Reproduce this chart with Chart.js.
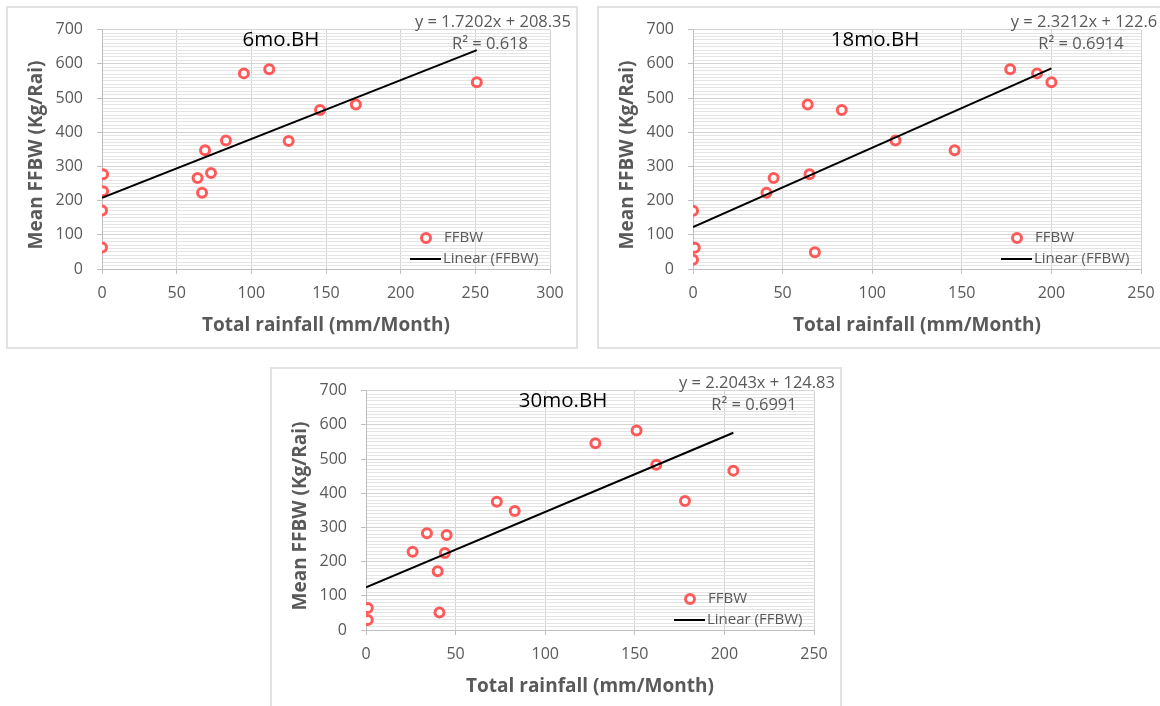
<!DOCTYPE html>
<html>
<head>
<meta charset="utf-8">
<script src="https://cdn.jsdelivr.net/npm/chart.js@4.4.1/dist/chart.umd.min.js"></script>
<style>
    body { margin: 0; width: 1160px; height: 706px; position: relative; overflow: hidden; background: #fff; }
    .box { position: absolute; width: 572px; height: 343px; border: 2px solid #e2e2e2; box-sizing: border-box; }
    canvas { position: absolute; }
</style>
</head>
<body>
<div class="box" style="left:6px; top:6px;"></div>
<div class="box" style="left:597px; top:6px;"></div>
<div class="box" style="left:270px; top:367px;"></div>
<canvas id="chart6" width="572" height="343" style="left:6px; top:6px;"></canvas>
<canvas id="chart18" width="572" height="343" style="left:597px; top:6px;"></canvas>
<canvas id="chart30" width="572" height="343" style="left:270px; top:367px;"></canvas>

<script>
// Data: rainfall (mm/Month) vs mean FFBW (Kg/Rai)
const rain6 = [0.7, 0.7, 0, 0, 64, 67, 69, 73, 83, 95, 112, 125, 146, 170, 251];
const ffbw6 = [277, 227, 171, 63, 266, 223, 347, 281, 376, 572, 584, 374, 465, 481, 546];

const rain18 = [0, 1, 0, 41, 45, 64, 65, 68, 83, 113, 146, 177, 192, 200];
const ffbw18 = [170, 62, 27, 223, 266, 481, 277, 49, 465, 376, 347, 584, 572, 546];

const rain30 = [1, 1, 26, 34, 40, 41, 44, 45, 73, 83, 128, 151, 162, 178, 205];
const ffbw30 = [64, 29, 229, 283, 172, 51, 225, 278, 375, 348, 546, 583, 483, 377, 466];

// Trendline coefficients shown on the charts
const titles = ['6mo.BH', '18mo.BH', '30mo.BH'];
const slopes = [1.7202, 2.3212, 2.2043];
const intercepts = [208.35, 122.6, 124.83];
const rSquared = [0.618, 0.6914, 0.6991];
const xMax = [300, 250, 250];

const FONT = '"Open Sans", Lato, sans-serif';
const GREY = '#595959';
const RED = '#fe5a5a';

// Title, equation, y title and legend drawn inside the plot like Excel does
const annotations = {
    id: 'annotations',
    afterDraw: function(chart, args, opts) {
        const ctx = chart.ctx;
        ctx.save();
        ctx.textBaseline = 'middle';
        ctx.textAlign = 'center';

        // y axis title, a bit below the plot centre as in Excel
        ctx.save();
        ctx.translate(31, 149);
        ctx.rotate(-Math.PI / 2);
        ctx.fillStyle = GREY;
        ctx.font = 'bold 19px ' + FONT;
        ctx.fillText(opts.yTitle, 0, 0);
        ctx.restore();

        ctx.fillStyle = '#000';
        ctx.font = '20.5px ' + FONT;
        ctx.fillText(opts.title, opts.titleX, 34);

        ctx.fillStyle = GREY;
        ctx.font = '16.5px ' + FONT;
        ctx.fillText(opts.equation, 487, 16);
        ctx.fillText(opts.r2, 484, 38);

        // legend
        const ds = chart.data.datasets;
        ctx.beginPath();
        ctx.arc(420, 232, 4.5, 0, Math.PI * 2);
        ctx.fillStyle = '#fff';
        ctx.fill();
        ctx.lineWidth = 3;
        ctx.strokeStyle = RED;
        ctx.stroke();

        ctx.beginPath();
        ctx.moveTo(404, 253);
        ctx.lineTo(435, 253);
        ctx.lineWidth = 2;
        ctx.strokeStyle = '#000';
        ctx.stroke();

        ctx.textAlign = 'left';
        ctx.fillStyle = GREY;
        ctx.font = '15px ' + FONT;
        ctx.fillText(ds[0].label, 438, 232);
        ctx.fillText(ds[1].label, 437, 253);
        ctx.restore();
    }
};

function makeChart(id, idx, rain, ffbw, titleX) {
    const points = rain.map(function(r, i) { return { x: r, y: ffbw[i] }; });
    const lastX = Math.max.apply(null, rain);
    const trend = [
        { x: 0, y: intercepts[idx] },
        { x: lastX, y: slopes[idx] * lastX + intercepts[idx] }
    ];

    return new Chart(document.getElementById(id), {
        type: 'scatter',
        data: {
            datasets: [{
                label: 'FFBW',
                data: points,
                order: 1,
                pointRadius: 4.5,
                pointHoverRadius: 4.5,
                pointBorderWidth: 3,
                borderColor: RED,
                backgroundColor: '#fff'
            }, {
                label: 'Linear (FFBW)',
                data: trend,
                order: 0,
                showLine: true,
                borderColor: '#000',
                borderWidth: 2,
                pointRadius: 0
            }]
        },
        options: {
            responsive: false,
            animation: false,
            layout: { padding: { top: 17, right: 28, bottom: 0, left: 0 } },
            plugins: {
                legend: { display: false },
                tooltip: { enabled: false },
                annotations: {
                    title: titles[idx],
                    titleX: titleX,
                    yTitle: 'Mean FFBW (Kg/Rai)',
                    equation: 'y = ' + slopes[idx] + 'x + ' + intercepts[idx],
                    r2: 'R² = ' + rSquared[idx]
                }
            },
            scales: {
                x: {
                    type: 'linear',
                    min: 0,
                    max: xMax[idx],
                    afterFit: function(scale) { scale.height = 80; },
                    ticks: { stepSize: 50, padding: 10, color: GREY, font: { family: FONT, size: 16 } },
                    grid: { color: '#d4d4d4', tickLength: 5, tickColor: '#bfbfbf' },
                    border: { color: '#bfbfbf' },
                    title: {
                        display: true,
                        text: 'Total rainfall (mm/Month)',
                        color: GREY,
                        font: { family: FONT, size: 19, weight: 'bold' },
                        padding: { top: 0, bottom: 12 }
                    }
                },
                y: {
                    min: 0,
                    max: 700,
                    afterFit: function(scale) { scale.width = 96; },
                    ticks: {
                        stepSize: 10,
                        autoSkip: false,
                        padding: 14,
                        color: GREY,
                        font: { family: FONT, size: 16 },
                        callback: function(v) { return v % 100 === 0 ? v : ''; }
                    },
                    grid: {
                        color: function(c) { return c.tick && c.tick.value % 100 === 0 ? '#d4d4d4' : '#e4e4e4'; },
                        tickLength: 5,
                        tickColor: function(c) { return c.tick && c.tick.value % 100 === 0 ? '#bfbfbf' : 'rgba(0,0,0,0)'; }
                    },
                    border: { color: '#bfbfbf' }
                }
            }
        },
        plugins: [annotations]
    });
}

makeChart('chart6', 0, rain6, ffbw6, 275);
makeChart('chart18', 1, rain18, ffbw18, 278);
makeChart('chart30', 2, rain30, ffbw30, 293);
</script>
</body>
</html>
